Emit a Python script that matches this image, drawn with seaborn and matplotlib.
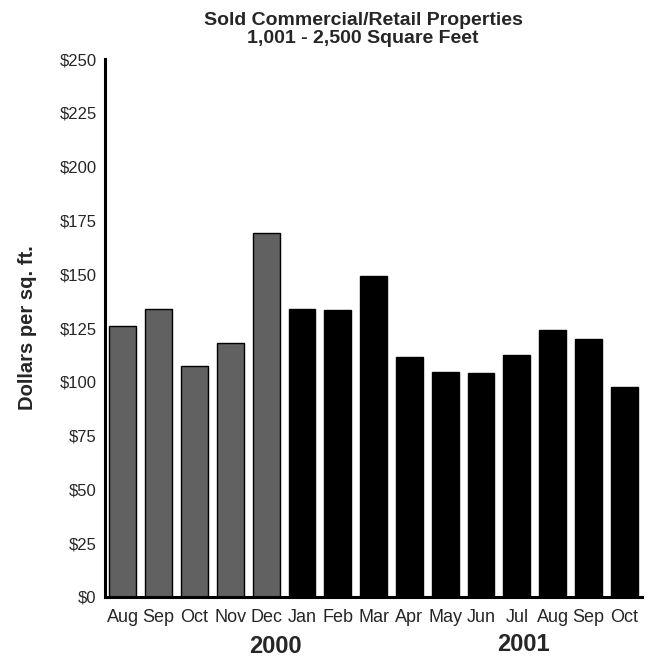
import pandas as pd
import matplotlib
matplotlib.use('Agg')
import matplotlib.pyplot as plt
import seaborn as sns

# datos
meses = ['Aug', 'Sep', 'Oct', 'Nov', 'Dec', 'Jan', 'Feb', 'Mar', 'Apr', 'May', 'Jun', 'Jul', 'Aug', 'Sep', 'Oct']
anios = ['2000'] * 5 + ['2001'] * 10
precios = [126, 134, 107.5, 118, 169, 134, 133.5, 149, 111.5, 104.5, 104, 112.5, 124, 120, 97.5]
ticks_y = [0, 25, 50, 75, 100, 125, 150, 175, 200, 225, 250]

df = pd.DataFrame({'pos': range(len(meses)), 'mes': meses, 'anio': anios, 'precio': precios})

sns.set_style('white')
plt.rcParams['font.family'] = ['Liberation Sans', 'DejaVu Sans']

fig = plt.figure(figsize=(6.52, 6.60), dpi=100)
ax = fig.add_axes([0.161, 0.0955, 0.824, 0.815])

sns.barplot(data=df, x='pos', y='precio', hue='anio', dodge=False, width=0.75,
            palette={'2000': '#616161', '2001': '#000000'},
            edgecolor='black', linewidth=1, legend=False, ax=ax)

ax.set_xlim(-0.5, 14.5)
ax.set_ylim(0, 250)
ax.set_yticks(ticks_y)
ax.set_yticklabels([f'${v}' for v in ticks_y], fontsize=12)
ax.set_xticks(df['pos'])
ax.set_xticklabels(meses, fontsize=13)
ax.tick_params(axis='y', direction='in', length=10, width=2, pad=6)
ax.tick_params(axis='x', length=0, pad=9)
ax.set_xlabel('')
ax.set_ylabel('Dollars per sq. ft.', fontsize=14.5, fontweight='bold')
ax.yaxis.set_label_coords(-0.127, 0.5)

for lado in ['top', 'right']:
    ax.spines[lado].set_visible(False)
for lado in ['left', 'bottom']:
    ax.spines[lado].set_linewidth(2.2)
    ax.spines[lado].set_color('black')

# etiquetas de año
ax.text(4.25, -0.092, '2000', transform=ax.get_xaxis_transform(), ha='center', va='center',
        fontsize=17, fontweight='bold')
ax.text(11.17, -0.089, '2001', transform=ax.get_xaxis_transform(), ha='center', va='center',
        fontsize=17, fontweight='bold')

# título en dos líneas
fig.text(0.557, 1 - 25 / 660, 'Sold Commercial/Retail Properties',
         ha='center', va='baseline', fontsize=14, fontweight='bold')
fig.text(0.557, 1 - 43 / 660, '1,001 - 2,500 Square Feet',
         ha='center', va='baseline', fontsize=14, fontweight='bold')

fig.savefig('out.png', dpi=100)
